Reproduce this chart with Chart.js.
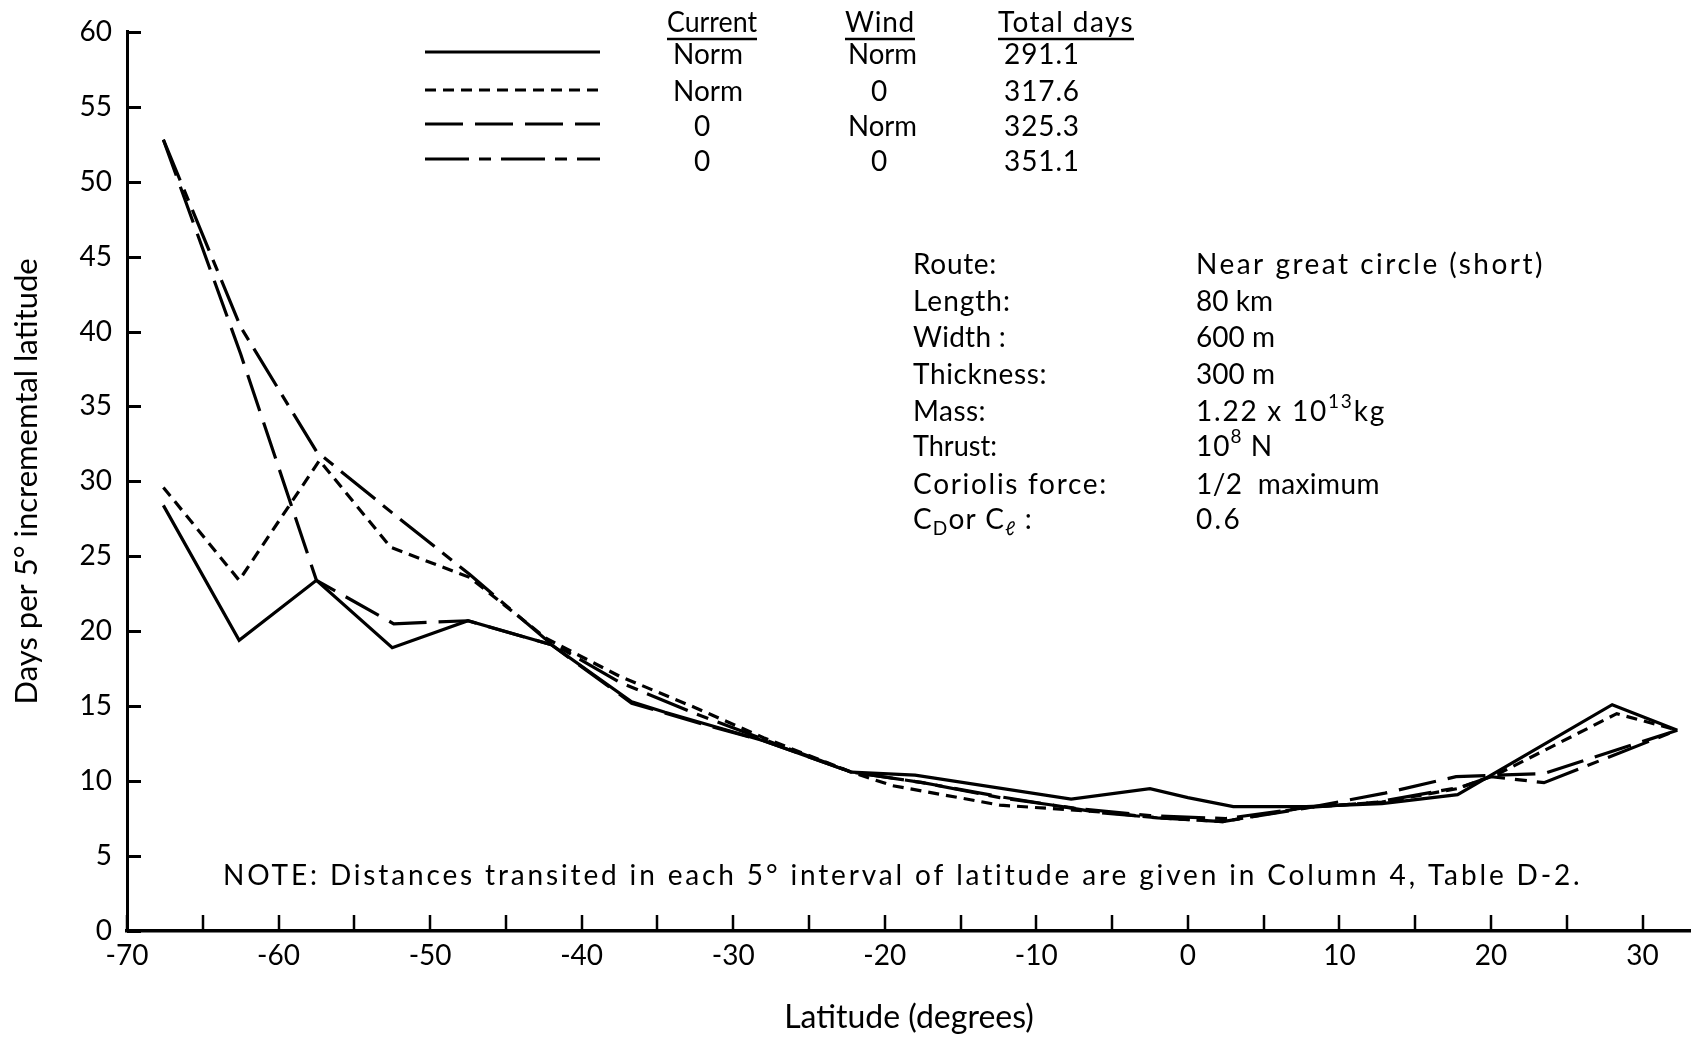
<!DOCTYPE html>
<html>
<head>
<meta charset="utf-8">
<script src="https://cdn.jsdelivr.net/npm/chart.js@4.4.1/dist/chart.umd.min.js"></script>
<style>
  html, body { margin: 0; padding: 0; background: #fff; }
  #wrap { width: 1691px; height: 1038px; position: relative; }
</style>
</head>
<body>
<div id="wrap"><canvas id="c" width="1691" height="1038"></canvas></div>
<script>
// ---------- data ----------
// Current Norm, Wind Norm (solid) – 291.1 days
const latNormNorm  = [-67.6, -62.6, -57.5, -52.5, -47.5, -42.0, -36.7, -34.5, -28.0, -22.2, -18.0, -7.7, -2.5, 0.0, 3.0, 7.8, 12.8, 17.8, 28.0, 32.3];
const daysNormNorm = [28.4, 19.4, 23.4, 18.9, 20.7, 19.1, 15.3, 14.6, 12.7, 10.6, 10.4, 8.8, 9.5, 8.9, 8.3, 8.3, 8.5, 9.1, 15.1, 13.4];
// Current Norm, Wind 0 (short dash) – 317.6 days
const latNorm0  = [-67.6, -62.6, -57.3, -52.6, -47.4, -42.3, -37.5, -32.5, -28.0, -22.2, -19.5, -12.4, -5.8, -2.0, 2.3, 7.8, 12.8, 17.8, 20.5, 28.3, 32.3];
const daysNorm0 = [29.6, 23.4, 31.4, 25.6, 23.6, 19.5, 17.0, 14.9, 12.9, 10.6, 9.7, 8.4, 7.95, 7.55, 7.3, 8.25, 8.6, 9.5, 10.5, 14.5, 13.4];
// Current 0, Wind Norm (long dash) – 325.3 days
const lat0Norm  = [-67.6, -62.5, -57.5, -52.4, -47.5, -42.0, -36.7, -32.0, -28.0, -22.2, -17.5, -12.4, -5.8, -2.0, 2.3, 7.8, 13.0, 17.7, 20.4, 23.5, 32.3];
const days0Norm = [52.8, 38.5, 23.4, 20.5, 20.7, 19.1, 15.2, 13.8, 12.7, 10.6, 9.9, 8.96, 7.9, 7.55, 7.3, 8.2, 9.2, 10.3, 10.4, 10.5, 13.4];
// Current 0, Wind 0 (dash-dot) – 351.1 days
const lat00  = [-67.6, -62.5, -57.5, -52.5, -47.4, -42.3, -37.5, -32.5, -28.0, -22.2, -17.5, -12.4, -7.5, -2.5, 2.5, 7.5, 12.5, 18.0, 20.0, 23.5, 32.3];
const days00 = [52.8, 40.3, 32.0, 27.9, 23.8, 19.4, 16.6, 14.5, 12.8, 10.6, 9.9, 8.9, 8.2, 7.7, 7.5, 8.2, 8.6, 9.6, 10.3, 9.9, 13.4];

const xTicksMajor = [-70, -60, -50, -40, -30, -20, -10, 0, 10, 20, 30];
const xTicksMinor = [-65, -55, -45, -35, -25, -15, -5, 5, 15, 25];
const yTicks = [0, 5, 10, 15, 20, 25, 30, 35, 40, 45, 50, 55, 60];

const legendCurrent = ['Norm', 'Norm', '0', '0'];
const legendWind    = ['Norm', '0', 'Norm', '0'];
const legendTotal   = ['291.1', '317.6', '325.3', '351.1'];

const FONT = "Lato, 'DejaVu Sans', sans-serif";
const dashSolid = [], dashShort = [11, 7], dashLong = [38, 12], dashDot = [44, 10, 12, 10];

function pts(xs, ys) { return xs.map((x, i) => ({ x: x, y: ys[i] })); }

const datasets = [
  { label: 'Norm/Norm', data: pts(latNormNorm, daysNormNorm), borderDash: dashSolid },
  { label: 'Norm/0', data: pts(latNorm0, daysNorm0), borderDash: dashShort },
  { label: '0/Norm', data: pts(lat0Norm, days0Norm), borderDash: dashLong },
  { label: '0/0', data: pts(lat00, days00), borderDash: dashDot }
].map(d => Object.assign(d, { borderColor: '#000', borderWidth: 3.2, pointRadius: 0, tension: 0, fill: false }));

// ---------- text helper ----------
function drawRuns(ctx, runs, x, y, w, size, align) {
  ctx.save();
  ctx.fillStyle = '#000';
  ctx.textBaseline = 'middle';
  ctx.textAlign = 'left';
  let total = 0, chars = 0;
  const meas = runs.map(r => {
    const s = r[1] ? size * 0.68 : size;
    ctx.font = s + 'px ' + FONT;
    if ('letterSpacing' in ctx) ctx.letterSpacing = '0px';
    const m = ctx.measureText(r[0]).width;
    total += m; chars += r[0].length;
    return m;
  });
  let extra = 0, sx = 1;
  if (w) {
    if (w > total && 'letterSpacing' in ctx && chars > 1) extra = (w - total) / chars;
    else sx = w / total;
  }
  const fullW = w || total;
  let x0 = x;
  if (align === 'center') x0 = x - fullW / 2;
  ctx.translate(x0, y);
  ctx.scale(sx, 1);
  let cx = 0;
  runs.forEach((r, i) => {
    const s = r[1] ? size * 0.68 : size;
    ctx.font = s + 'px ' + FONT;
    if ('letterSpacing' in ctx) ctx.letterSpacing = extra + 'px';
    const dy = r[1] === 1 ? size * 0.32 : (r[1] === 2 ? -size * 0.33 : 0);
    ctx.fillText(r[0], cx, dy);
    cx += meas[i] + extra * r[0].length;
  });
  ctx.restore();
}

const axisTicksPlugin = {
  id: 'axisTicks',
  afterDraw(chart) {
    const ctx = chart.ctx, xs = chart.scales.x, ys = chart.scales.y, a = chart.chartArea;
    ctx.save();
    ctx.strokeStyle = '#000';
    ctx.lineWidth = 3;
    yTicks.forEach(v => {
      const py = Math.round(ys.getPixelForValue(v)) + 0.5;
      ctx.beginPath(); ctx.moveTo(a.left, py); ctx.lineTo(a.left + 14, py); ctx.stroke();
    });
    ctx.lineWidth = 2.5;
    xTicksMajor.concat(xTicksMinor).forEach(v => {
      const px = Math.round(xs.getPixelForValue(v));
      ctx.beginPath(); ctx.moveTo(px, a.bottom); ctx.lineTo(px, a.bottom - 16); ctx.stroke();
    });
    ctx.restore();
  }
};

const annotPlugin = {
  id: 'annot',
  afterDraw(chart) {
    const ctx = chart.ctx;
    const S = 28;
    // legend table headers
    drawRuns(ctx, [['Current']], 667, 23, 90, S);
    drawRuns(ctx, [['Wind']], 845, 23, 70, S);
    drawRuns(ctx, [['Total days']], 998, 23, 136, S);
    ctx.save();
    ctx.strokeStyle = '#000'; ctx.lineWidth = 2.5;
    [[667, 757], [845, 915], [998, 1134]].forEach(u => {
      ctx.beginPath(); ctx.moveTo(u[0], 39); ctx.lineTo(u[1], 39); ctx.stroke();
    });
    ctx.restore();
    const rowY = [55, 91.5, 126.5, 161.5];
    const lineY = [52, 90, 124, 159];
    const dashes = [dashSolid, dashShort, dashLong, dashDot];
    for (let i = 0; i < 4; i++) {
      ctx.save();
      ctx.strokeStyle = '#000'; ctx.lineWidth = 3.2; ctx.setLineDash(dashes[i]);
      ctx.beginPath(); ctx.moveTo(425, lineY[i]); ctx.lineTo(600, lineY[i]); ctx.stroke();
      ctx.restore();
      if (legendCurrent[i] === '0') drawRuns(ctx, [['0']], 702, rowY[i], 0, S, 'center');
      else drawRuns(ctx, [[legendCurrent[i]]], 673, rowY[i], 70, S);
      if (legendWind[i] === '0') drawRuns(ctx, [['0']], 879, rowY[i], 0, S, 'center');
      else drawRuns(ctx, [[legendWind[i]]], 848, rowY[i], 69, S);
      drawRuns(ctx, [[legendTotal[i]]], 1004, rowY[i], 76, S);
    }
    // info block
    const infoY = [265, 302, 338, 375, 411.5, 446.5, 485, 520];
    const labels = [
      [[['Route:']], 84], [[['Length:']], 98], [[['Width :']], 93], [[['Thickness:']], 134],
      [[['Mass:']], 73], [[['Thrust:']], 84], [[['Coriolis force:']], 195],
      [[['C'], ['D', 1], ['or C'], ['\u2113', 1], [' :']], 120]
    ];
    const values = [
      [[['Near great circle (short)']], 349], [[['80 km']], 77], [[['600 m']], 79], [[['300 m']], 79],
      [[['1.22 x 10'], ['13', 2], ['kg']], 190], [[['10'], ['8', 2], [' N']], 77],
      [[['1/2  maximum']], 184], [[['0.6']], 46]
    ];
    for (let i = 0; i < 8; i++) {
      drawRuns(ctx, labels[i][0], 913, infoY[i], labels[i][1], S);
      drawRuns(ctx, values[i][0], 1196, infoY[i], values[i][1], S);
    }
    // note
    drawRuns(ctx, [['NOTE: Distances transited in each 5\u00b0 interval of latitude are given in Column 4, Table D-2.']], 223, 876, 1360, S);
  }
};

new Chart(document.getElementById('c'), {
  type: 'line',
  data: { datasets: datasets },
  options: {
    responsive: false,
    animation: false,
    events: [],
    layout: { padding: { top: 21.6, right: 0, left: 0, bottom: 0 } },
    plugins: { legend: { display: false }, tooltip: { enabled: false } },
    scales: {
      x: {
        type: 'linear', min: -70, max: 33.2,
        grid: { display: false, drawTicks: false },
        border: { display: true, width: 3.5, color: '#000' },
        ticks: {
          stepSize: 10, includeBounds: false, autoSkip: false, maxRotation: 0, padding: 8,
          color: '#000', font: { family: FONT, size: 28 },
          callback: v => (xTicksMajor.includes(v) ? String(v) : '')
        },
        title: { display: true, text: 'Latitude (degrees)', color: '#000', font: { family: FONT, size: 32 }, padding: { top: 0, bottom: 1 } },
        afterFit: s => { s.height = 107; }
      },
      y: {
        min: 0, max: 60,
        grid: { display: false, drawTicks: false },
        border: { display: true, width: 3, color: '#000' },
        ticks: { stepSize: 5, padding: 15, color: '#000', font: { family: FONT, size: 28 } },
        title: { display: true, text: 'Days per 5\u00b0 incrememtal latitude', color: '#000', font: { family: FONT, size: 31 }, padding: { top: 8, bottom: 0 } },
        afterFit: s => { s.width = 127; }
      }
    }
  },
  plugins: [axisTicksPlugin, annotPlugin]
});
</script>
</body>
</html>
